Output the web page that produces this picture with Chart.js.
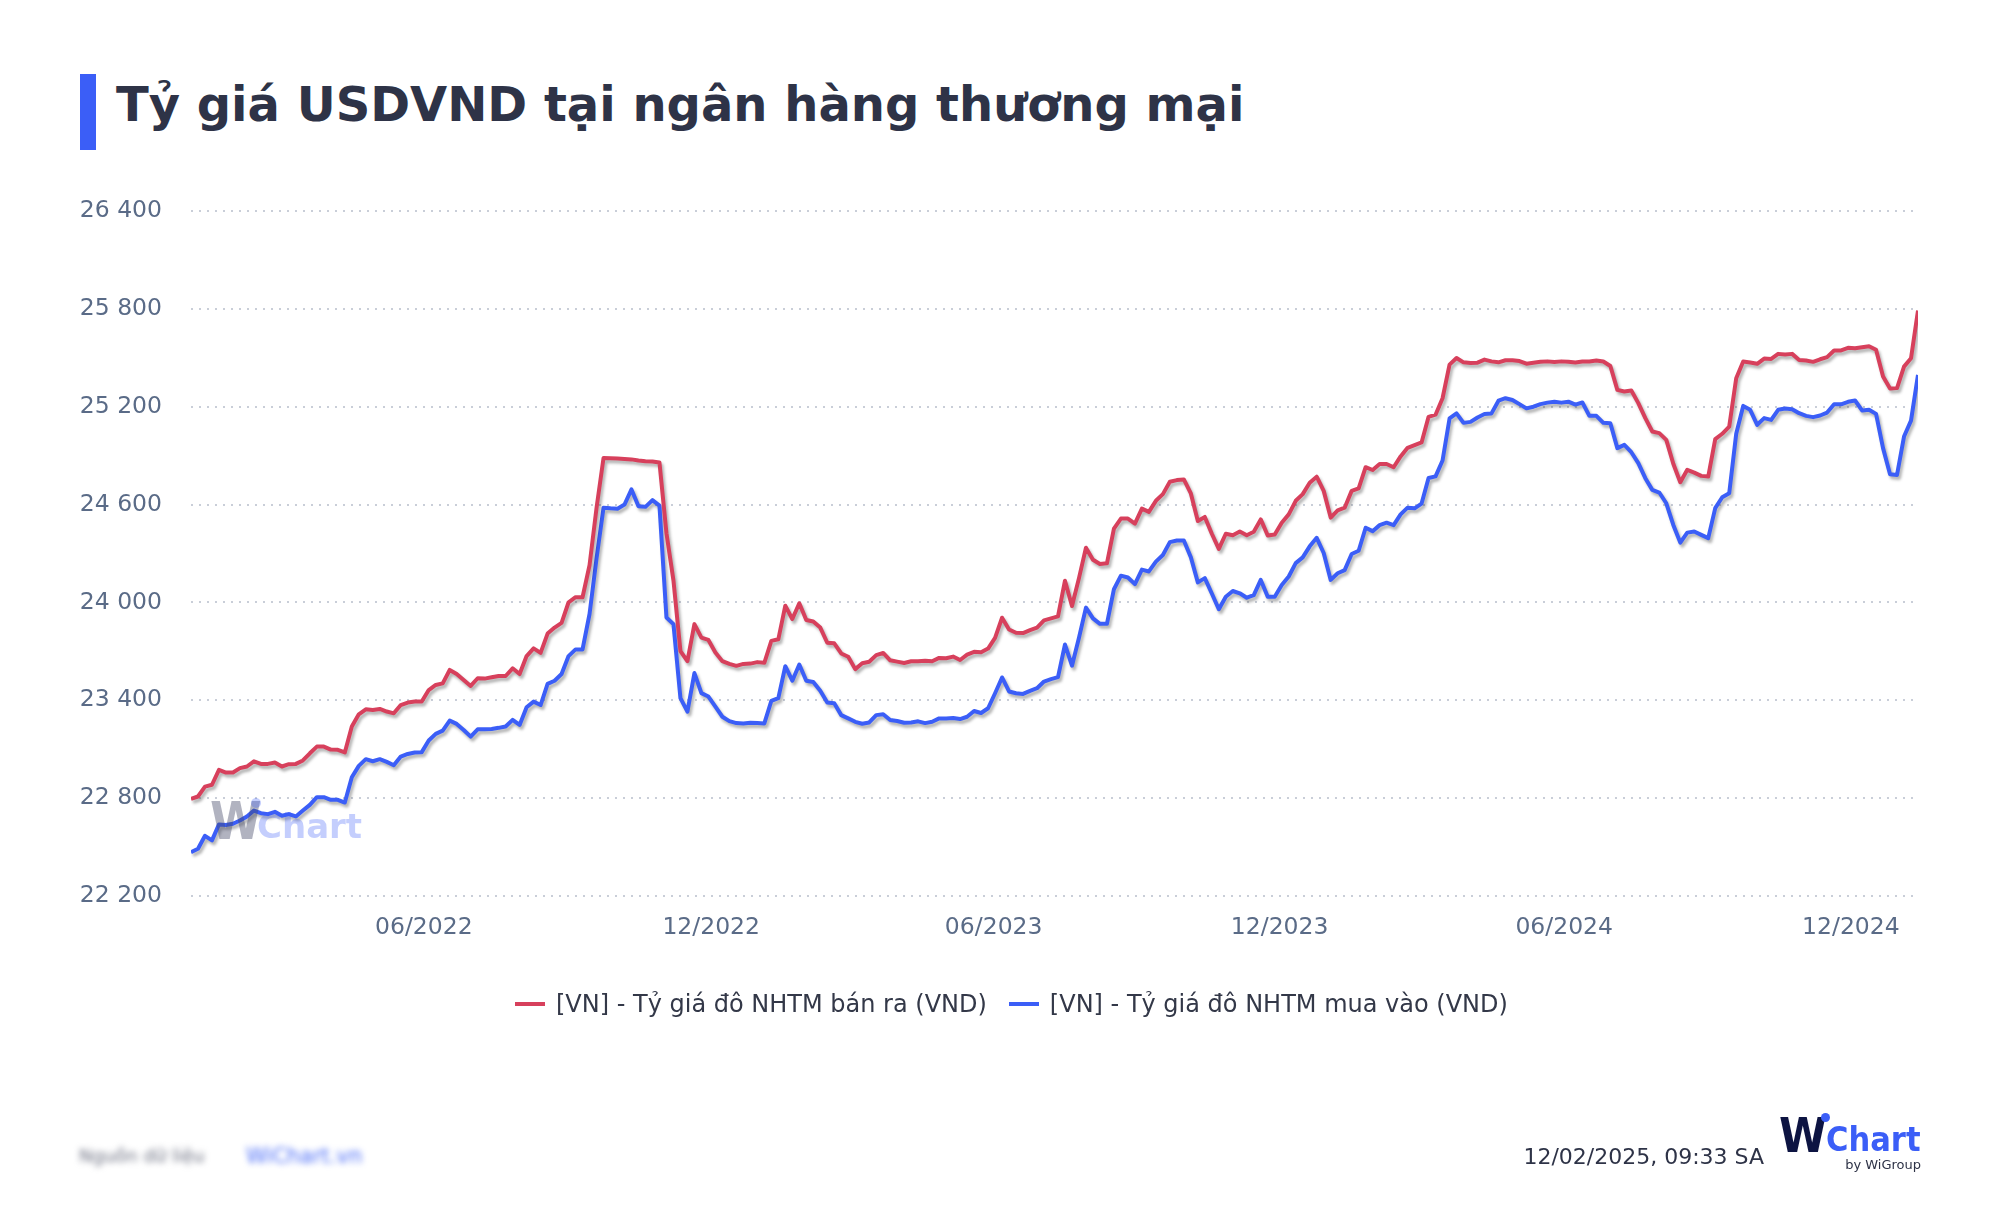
<!DOCTYPE html>
<html lang="vi">
<head>
<meta charset="utf-8">
<title>Tỷ giá USDVND tại ngân hàng thương mại</title>
<script src="https://cdn.jsdelivr.net/npm/chart.js@4.4.1/dist/chart.umd.min.js"></script>
<style>
  body { margin:0; width:2000px; height:1218px; position:relative; background:#fff; font-family:"DejaVu Sans", sans-serif; overflow:hidden; }
  .title-bar { position:absolute; left:80px; top:74px; width:16px; height:76px; background:#3b5ef7; }
  .title { position:absolute; left:116px; top:80px; margin:0; font-size:48px; line-height:48px; font-weight:bold; color:#2e3347; white-space:nowrap; }
  #chart { position:absolute; left:0; top:0; }
  #legend { position:absolute; left:515px; top:990px; height:28px; display:flex; align-items:center; font-size:24px; color:#333848; white-space:nowrap; }
  #legend .item { display:flex; align-items:center; margin-right:22px; }
  #legend .sw { width:30px; height:4px; margin-right:11px; }
  .wm { position:absolute; left:210px; top:796px; height:50px; pointer-events:none; }
  .wm .w { position:absolute; left:0; top:0; font:bold 52px "DejaVu Sans Condensed","DejaVu Sans"; color:rgba(70,74,105,0.42); line-height:50px; }
  .wm .c { position:absolute; left:47px; top:11px; font:bold 34px "DejaVu Sans"; color:rgba(59,94,247,0.3); line-height:38px; }
  .wm .dot { position:absolute; left:41px; top:2px; width:10px; height:10px; border-radius:50%; background:rgba(59,94,247,0.3); }
  .stamp { position:absolute; right:236px; top:1144px; font-size:22px; line-height:26px; color:#2e3347; }
  .logo { position:absolute; left:1779px; top:1110px; width:142px; height:62px; }
  .logo .w { position:absolute; left:0; top:2px; font:bold 48px "DejaVu Sans Condensed","DejaVu Sans"; color:#0d1442; line-height:46px; }
  .logo .dot { position:absolute; left:42px; top:3px; width:9px; height:9px; border-radius:50%; background:#3b5ef7; }
  .logo .c { position:absolute; left:47px; top:12px; font:bold 34px "DejaVu Sans Condensed","DejaVu Sans"; color:#3b5ef7; line-height:34px; }
  .logo .by { position:absolute; right:0; top:48px; font-size:13px; line-height:14px; color:#2e3347; }
  .blurred { position:absolute; top:1143px; font-size:20px; line-height:26px; filter:blur(3px); white-space:nowrap; }
</style>
</head>
<body>
<div class="title-bar"></div>
<h1 class="title">Tỷ giá USDVND tại ngân hàng thương mại</h1>
<canvas id="chart" width="2000" height="1218"></canvas>
<div id="legend"></div>
<div class="wm"><span class="w">W</span><span class="dot"></span><span class="c">Chart</span></div>
<div class="blurred" style="left:79px;color:#6b6f80;font-size:18px">Nguồn dữ liệu</div>
<div class="blurred" style="left:246px;color:#4a6cf7;font-size:21px">WiChart.vn</div>
<div class="stamp">12/02/2025, 09:33 SA</div>
<div class="logo"><span class="w">W</span><span class="dot"></span><span class="c">Chart</span><span class="by">by WiGroup</span></div>

<script>
// series labels
var seriesLabels = ['[VN] - Tỷ giá đô NHTM bán ra (VND)', '[VN] - Tỷ giá đô NHTM mua vào (VND)'];

// NHTM selling rate (one point about every week)
var sellRate = [
  22795, 22810, 22871, 22882, 22973, 22957, 22957, 22984, 22994, 23026,
  23010, 23010, 23018, 22994, 23008, 23010, 23031, 23075, 23116, 23116,
  23098, 23096, 23080, 23239, 23314, 23345, 23341, 23347, 23331, 23320,
  23371, 23386, 23392, 23392, 23463, 23494, 23504, 23586, 23561, 23524,
  23488, 23535, 23533, 23541, 23549, 23549, 23596, 23561, 23671, 23718,
  23691, 23809, 23846, 23875, 24001, 24032, 24032, 24228, 24579, 24886,
  24884, 24882, 24880, 24877, 24870, 24866, 24864, 24858, 24424, 24135,
  23702, 23640, 23867, 23784, 23770, 23693, 23640, 23623, 23611, 23623,
  23625, 23634, 23630, 23764, 23774, 23980, 23898, 23995, 23892, 23883,
  23846, 23753, 23749, 23687, 23667, 23591, 23627, 23636, 23677, 23690,
  23645, 23637, 23629, 23639, 23639, 23643, 23639, 23660, 23658, 23668,
  23647, 23680, 23697, 23694, 23717, 23783, 23906, 23834, 23814, 23812,
  23830, 23845, 23890, 23902, 23915, 24133, 23978, 24149, 24335, 24262,
  24236, 24240, 24452, 24514, 24514, 24483, 24575, 24555, 24623, 24664,
  24740, 24750, 24754, 24668, 24499, 24524, 24421, 24328, 24421, 24412,
  24435, 24412, 24433, 24509, 24410, 24416, 24489, 24540, 24623, 24664,
  24734, 24771, 24684, 24520, 24565, 24581, 24684, 24699, 24829, 24812,
  24849, 24849, 24829, 24895, 24948, 24965, 24981, 25138, 25151, 25252,
  25458, 25499, 25472, 25468, 25470, 25489, 25478, 25472, 25485, 25485,
  25480, 25464, 25470, 25476, 25478, 25474, 25478, 25476, 25471, 25477,
  25477, 25483, 25477, 25450, 25303, 25293, 25299, 25222, 25130, 25048,
  25038, 24997, 24850, 24737, 24813, 24796, 24776, 24772, 25001, 25034,
  25078, 25375, 25477, 25471, 25463, 25495, 25493, 25524, 25520, 25524,
  25487, 25483, 25475, 25491, 25504, 25545, 25545, 25561, 25559, 25565,
  25571, 25549, 25385, 25311, 25314, 25446, 25497, 25790
];

// NHTM buying rate
var buyRate = [
  22469, 22490, 22569, 22541, 22639, 22635, 22643, 22663, 22688, 22724,
  22708, 22702, 22716, 22692, 22702, 22688, 22724, 22759, 22806, 22806,
  22790, 22790, 22773, 22928, 22998, 23039, 23026, 23039, 23022, 23002,
  23055, 23071, 23080, 23082, 23153, 23194, 23214, 23275, 23255, 23218,
  23177, 23222, 23222, 23224, 23231, 23239, 23280, 23249, 23357, 23392,
  23371, 23501, 23520, 23561, 23671, 23712, 23712, 23929, 24270, 24581,
  24577, 24575, 24600, 24693, 24590, 24586, 24627, 24594, 23908, 23867,
  23413, 23330, 23567, 23444, 23423, 23361, 23299, 23272, 23260, 23258,
  23262, 23260, 23258, 23396, 23413, 23609, 23520, 23619, 23520, 23512,
  23458, 23386, 23382, 23309, 23289, 23268, 23256, 23264, 23309, 23314,
  23279, 23273, 23262, 23264, 23271, 23260, 23268, 23289, 23289, 23291,
  23285, 23299, 23334, 23322, 23351, 23443, 23540, 23454, 23443, 23439,
  23458, 23474, 23515, 23530, 23542, 23742, 23612, 23783, 23968, 23902,
  23869, 23869, 24081, 24164, 24153, 24112, 24201, 24190, 24250, 24291,
  24370, 24380, 24380, 24277, 24123, 24149, 24055, 23958, 24035, 24070,
  24056, 24029, 24045, 24138, 24035, 24035, 24107, 24159, 24241, 24276,
  24344, 24396, 24303, 24138, 24179, 24198, 24297, 24317, 24458, 24437,
  24474, 24489, 24474, 24540, 24581, 24577, 24606, 24763, 24773, 24870,
  25128, 25159, 25101, 25107, 25134, 25155, 25159, 25237, 25252, 25241,
  25216, 25190, 25200, 25216, 25225, 25231, 25225, 25231, 25213, 25226,
  25144, 25144, 25101, 25099, 24946, 24966, 24921, 24854, 24762, 24690,
  24674, 24608, 24475, 24367, 24428, 24435, 24414, 24394, 24578, 24645,
  24670, 25034, 25205, 25181, 25089, 25130, 25119, 25181, 25189, 25185,
  25160, 25144, 25136, 25146, 25164, 25215, 25215, 25230, 25238, 25177,
  25181, 25156, 24946, 24786, 24782, 25017, 25115, 25395
];

// x ticks: point index where each month label sits
var xTickPos = [33.3, 74.4, 114.8, 155.7, 196.4, 237.4];
var xTickLabels = ['06/2022', '12/2022', '06/2023', '12/2023', '06/2024', '12/2024'];

// y ticks
var yMin = 22200, yMax = 26400, yStep = 600;

var seriesColors = ['#d7405c', '#3b5ef7'];

function toPoints(arr) {
  var pts = [];
  for (var i = 0; i < arr.length; i++) {
    pts.push({x: i, y: arr[i]});
  }
  return pts;
}

function fmtNum(v) {
  return String(v).replace(/\B(?=(\d{3})+(?!\d))/g, ' ');
}

// grey drop shadow under each line
var lineShadow = {
  id: 'lineShadow',
  beforeDatasetDraw: function (chart) {
    var ctx = chart.ctx;
    ctx.save();
    ctx.shadowColor = 'rgba(0,0,0,0.3)';
    ctx.shadowBlur = 3;
    ctx.shadowOffsetX = 2;
    ctx.shadowOffsetY = 3;
  },
  afterDatasetDraw: function (chart) {
    chart.ctx.restore();
  }
};

var ctx = document.getElementById('chart');

var chart = new Chart(ctx, {
  type: 'line',
  data: {
    datasets: [
      {
        label: seriesLabels[0],
        data: toPoints(sellRate),
        borderColor: seriesColors[0],
        backgroundColor: seriesColors[0],
        borderWidth: 4,
        pointRadius: 0,
        tension: 0,
        borderJoinStyle: 'round',
        fill: false
      },
      {
        label: seriesLabels[1],
        data: toPoints(buyRate),
        borderColor: seriesColors[1],
        backgroundColor: seriesColors[1],
        borderWidth: 4,
        pointRadius: 0,
        tension: 0,
        borderJoinStyle: 'round',
        fill: false
      }
    ]
  },
  options: {
    responsive: false,
    animation: false,
    devicePixelRatio: 1,
    layout: {
      padding: {left: 0, right: 82, top: 211, bottom: 262}
    },
    plugins: {
      legend: {display: false},
      tooltip: {enabled: false}
    },
    scales: {
      x: {
        type: 'linear',
        min: 0,
        max: sellRate.length - 1,
        grid: {display: false, drawTicks: false},
        border: {display: false},
        afterFit: function (s) { s.height = 60; },
        afterBuildTicks: function (s) {
          s.ticks = xTickPos.map(function (p) { return {value: p}; });
        },
        ticks: {
          autoSkip: false,
          maxRotation: 0,
          padding: 18,
          color: '#5a6b87',
          font: {family: 'DejaVu Sans', size: 23.5},
          callback: function (value, index) { return xTickLabels[index]; }
        }
      },
      y: {
        min: yMin,
        max: yMax,
        afterFit: function (s) { s.width = 191; },
        grid: {
          color: '#c9ced8',
          lineWidth: 2,
          drawTicks: false
        },
        border: {display: false, dash: [2, 6]},
        ticks: {
          stepSize: yStep,
          padding: 29,
          color: '#5a6b87',
          font: {family: 'DejaVu Sans', size: 23.5},
          callback: function (value) { return fmtNum(value); }
        }
      }
    }
  },
  plugins: [lineShadow]
});

// html legend built from the datasets
var legend = document.getElementById('legend');
chart.data.datasets.forEach(function (ds) {
  var item = document.createElement('div');
  item.className = 'item';
  item.innerHTML = '<span class="sw" style="background:' + ds.borderColor + '"></span><span>' + ds.label + '</span>';
  legend.appendChild(item);
});
</script>
</body>
</html>
